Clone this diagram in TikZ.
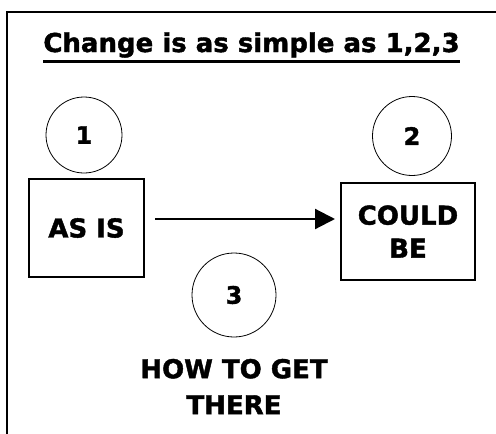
\documentclass[tikz,border=0pt]{standalone}
\usepackage{fontspec}
\setmainfont{DejaVu Sans}
\newfontfamily\heavy{DejaVu Sans Bold}[FakeBold=1.6] % stand-in for a black weight
\usetikzlibrary{positioning, arrows.meta}
\tikzset{
x=1pt, y=-1pt, % pixel grid, y runs downwards
stagebox/.style={draw, line width=2pt, align=center, inner sep=0pt,
  font=\fontsize{26}{33}\heavy}, % the AS IS / COULD BE boxes
stepmark/.style={draw, circle, line width=0.8pt, inner sep=0pt,
  font=\fontsize{24}{28}\heavy}, % numbered circles
flow/.style={-{Triangle[length=20pt,width=20pt]}, line width=2.2pt}, % the big arrow
}
\begin{document}
\begin{tikzpicture}
    \useasboundingbox (0,0) rectangle (496,434);
    % open frame
    \draw[line width=2pt] (6.5,434) -- (6.5,12) -- (496,12);
    \node[inner sep=0pt, anchor=base, font=\fontsize{26}{32}\heavy] (title) at (251.5,52) {Change is as simple as 1,2,3};
    \draw[line width=2.5pt] ([yshift=-9.5pt]title.base west) -- ([yshift=-9.5pt]title.base east);
    \node[stagebox, minimum width=115pt, minimum height=98pt] (asis) at (86.5,228) {AS IS};
    \node[stagebox, minimum width=134pt, minimum height=97pt] (couldbe) at (408,231.5) {COULD\\BE};
    \node[stepmark, minimum size=76pt] (one) at (84,135) {1};
    \node[stepmark, minimum size=79pt] (two) at (412,136) {2};
    \node[stepmark, minimum size=84pt] (three) at (234,295) {3};
    \node[align=center, font=\fontsize{26}{36}\heavy, below=18pt of three] (howto) {HOW TO GET\\THERE};
    \draw[flow] ([xshift=10pt, yshift=9pt]asis.east) -- ([xshift=-5pt, yshift=12.5pt]couldbe.west);
\end{tikzpicture}
\end{document}
